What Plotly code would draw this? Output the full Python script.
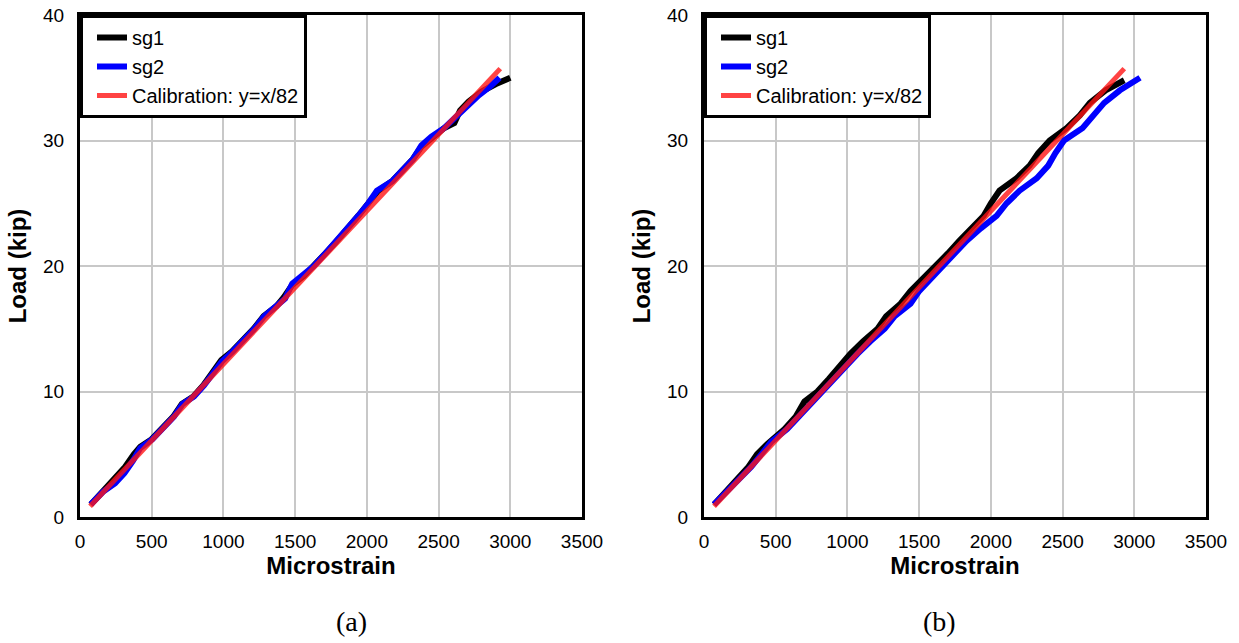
import plotly.graph_objects as go

# ---------------- data ----------------
# Panel (a)
a_sg1_strain = [75, 155, 240, 315, 375, 420, 500, 570, 650, 710, 790, 860, 920, 985, 1060,
                1130, 1210, 1280, 1370, 1420, 1480, 1560, 1630, 1710, 1790, 1870, 1940, 2010,
                2080, 2180, 2240, 2320, 2380, 2450, 2540, 2610, 2650, 2710, 2800, 2900, 3000]
a_sg1_load = [1.0, 2.0, 3.0, 4.0, 5.0, 5.6, 6.2, 7.0, 8.0, 9.0, 9.6, 10.5, 11.5, 12.5, 13.2,
              14.0, 15.0, 16.0, 16.8, 17.5, 18.5, 19.2, 20.0, 21.0, 22.0, 23.0, 24.0, 25.0,
              26.0, 26.8, 27.5, 28.5, 29.5, 30.2, 31.0, 31.4, 32.4, 33.1, 33.9, 34.5, 35.0]

a_sg2_strain = [75, 160, 245, 310, 370, 420, 505, 575, 655, 715, 795, 865, 925, 990, 1065,
                1135, 1215, 1285, 1375, 1430, 1480, 1560, 1630, 1710, 1790, 1870, 1940, 2010,
                2070, 2180, 2240, 2320, 2380, 2450, 2540, 2630, 2700, 2780, 2860, 2925]
a_sg2_load = [1.0, 2.0, 2.7, 3.5, 4.5, 5.5, 6.2, 7.0, 8.0, 9.0, 9.6, 10.5, 11.5, 12.4, 13.2,
              14.0, 15.0, 16.0, 16.8, 17.4, 18.6, 19.3, 20.0, 21.0, 22.0, 23.0, 24.0, 25.0,
              26.0, 26.8, 27.5, 28.5, 29.6, 30.3, 31.0, 32.0, 32.8, 33.6, 34.3, 35.0]

# Panel (b)
b_sg1_strain = [70, 150, 225, 310, 370, 440, 560, 640, 700, 790, 870, 940, 1020, 1110, 1210,
                1270, 1370, 1440, 1530, 1610, 1700, 1780, 1870, 1950, 2000, 2060, 2180, 2270,
                2330, 2410, 2530, 2620, 2690, 2800, 2930]
b_sg1_load = [1.0, 2.0, 3.0, 4.0, 5.0, 5.8, 7.0, 8.0, 9.2, 10.0, 11.0, 12.0, 13.0, 14.0, 15.0,
              16.0, 17.0, 18.0, 19.0, 20.0, 21.0, 22.0, 23.0, 24.0, 25.0, 26.0, 27.0, 28.0,
              29.0, 30.0, 31.0, 32.0, 33.0, 34.0, 34.8]

b_sg2_strain = [70, 160, 245, 330, 400, 470, 580, 660, 740, 830, 910, 980, 1070, 1160, 1260,
                1330, 1440, 1500, 1580, 1670, 1750, 1830, 1930, 2040, 2110, 2200, 2320, 2400,
                2450, 2510, 2640, 2720, 2790, 2900, 3040]
b_sg2_load = [1.0, 2.0, 3.0, 4.0, 5.0, 6.0, 7.0, 8.0, 9.0, 10.0, 11.0, 12.0, 13.0, 14.0, 15.0,
              16.0, 17.0, 18.0, 19.0, 20.0, 21.0, 22.0, 23.0, 24.0, 25.0, 26.0, 27.0, 28.0,
              29.0, 30.0, 31.0, 32.0, 33.0, 34.0, 35.0]

# Calibration line y = x/82
cal_strain = [70, 2930]
cal_load = [0.85, 35.73]

x_ticks = [0, 500, 1000, 1500, 2000, 2500, 3000, 3500]
y_ticks = [0, 10, 20, 30, 40]
series_names = ["sg1", "sg2", "Calibration: y=x/82"]
panel_labels = ["(a)", "(b)"]

# ---------------- figure ----------------
W, H = 1239, 643
FONT = "Liberation Sans, Arial, sans-serif"
SERIF = "Liberation Serif, Times New Roman, serif"

fig = go.Figure()

panels = [
    (a_sg1_strain, a_sg1_load, a_sg2_strain, a_sg2_load, "x", "y", "legend"),
    (b_sg1_strain, b_sg1_load, b_sg2_strain, b_sg2_load, "x2", "y2", "legend2"),
]
for s1x, s1y, s2x, s2y, xa, ya, lg in panels:
    fig.add_trace(go.Scatter(x=s1x, y=s1y, mode="lines", name=series_names[0],
                             line=dict(color="black", width=6), xaxis=xa, yaxis=ya, legend=lg))
    fig.add_trace(go.Scatter(x=s2x, y=s2y, mode="lines", name=series_names[1],
                             line=dict(color="#0000ff", width=6), xaxis=xa, yaxis=ya, legend=lg))
    fig.add_trace(go.Scatter(x=cal_strain, y=cal_load, mode="lines", name=series_names[2],
                             line=dict(color="rgba(255,20,20,0.8)", width=5),
                             xaxis=xa, yaxis=ya, legend=lg))

left_a, right_a = 80 / W, 582 / W
left_b, right_b = 704 / W, 1206 / W
bottom, top = 1 - 517 / H, 1 - 15 / H

axis_common = dict(
    showline=True, linecolor="black", linewidth=3, mirror=True,
    showgrid=True, gridcolor="#c8c8c8", gridwidth=2, zeroline=False,
    ticks="", tickfont=dict(family=FONT, size=19, color="black"), automargin=False,
)
xcommon = dict(axis_common, range=[0, 3500], tickvals=x_ticks, ticklabelstandoff=5,
               title=dict(text="<b>Microstrain</b>", font=dict(family=FONT, size=24, color="black"),
                          standoff=2))
ycommon = dict(axis_common, range=[0, 40], tickvals=y_ticks, ticklabelstandoff=9,
               title=dict(text="<b>Load (kip)</b>", font=dict(family=FONT, size=24, color="black"),
                          standoff=10))

legend_common = dict(
    xanchor="left", yanchor="top", bgcolor="white", bordercolor="black", borderwidth=3,
    font=dict(family=FONT, size=20, color="black"), tracegroupgap=0, indentation=9,
)

fig.update_layout(
    width=W, height=H, margin=dict(l=0, r=0, t=0, b=0, autoexpand=False),
    paper_bgcolor="white", plot_bgcolor="white",
    showlegend=True,
    xaxis=dict(xcommon, domain=[left_a, right_a], anchor="y"),
    yaxis=dict(ycommon, domain=[bottom, top], anchor="x"),
    xaxis2=dict(xcommon, domain=[left_b, right_b], anchor="y2"),
    yaxis2=dict(ycommon, domain=[bottom, top], anchor="x2"),
    legend=dict(legend_common, x=left_a, y=top),
    legend2=dict(legend_common, x=left_b, y=top),
    annotations=[
        dict(text=panel_labels[0], x=334 / W, y=1 - 621 / H, xref="paper", yref="paper",
             yanchor="middle",
             showarrow=False, font=dict(family=SERIF, size=28, color="black")),
        dict(text=panel_labels[1], x=958 / W, y=1 - 621 / H, xref="paper", yref="paper",
             yanchor="middle",
             showarrow=False, font=dict(family=SERIF, size=28, color="black")),
    ],
)

fig.write_html("out.html")
